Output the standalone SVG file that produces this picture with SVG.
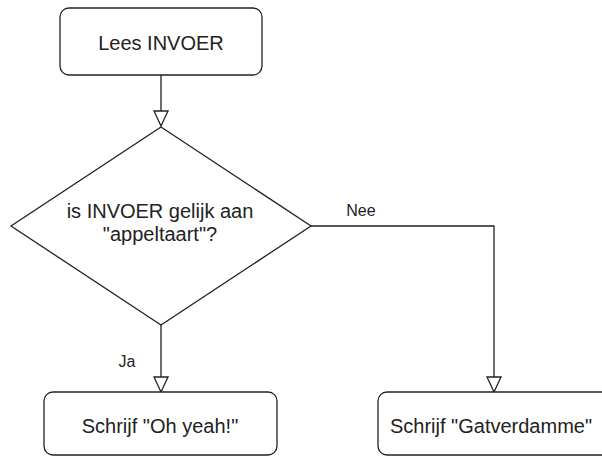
<svg xmlns="http://www.w3.org/2000/svg" width="602" height="459" viewBox="0 0 602 459">
<style>
.shape{fill:#fff;stroke:#222;stroke-width:1.3}
.edge{fill:none;stroke:#222;stroke-width:1.3}
.t{font-family:"Liberation Sans",Arial,sans-serif;font-size:20px;fill:#222;text-anchor:middle}
.lbl{font-family:"Liberation Sans",Arial,sans-serif;font-size:16px;fill:#222;text-anchor:middle}
</style>
<defs>
<marker id="arr" markerWidth="18" markerHeight="18" refX="16" refY="8" orient="auto" markerUnits="userSpaceOnUse">
<path d="M1,1 L16,8 L1,15 Z" fill="#fff" stroke="#222" stroke-width="1.3"/>
</marker>
</defs>
<rect width="602" height="459" fill="#fff"/>
<g id="connectors">
<path class="edge" d="M161,75 L161,126" marker-end="url(#arr)"/>
<path class="edge" d="M161,325 L161,392" marker-end="url(#arr)"/>
<path class="edge" d="M310,226 L494,226 L494,392" marker-end="url(#arr)"/>
<text class="lbl" x="361" y="216">Nee</text>
<text class="lbl" x="127" y="367">Ja</text>
</g>
<g id="node-lees">
<rect class="shape" x="60" y="8" width="202" height="67" rx="9"/>
<text class="t" x="161" y="50">Lees INVOER</text>
</g>
<g id="node-decision">
<polygon class="shape" points="161,127 311,226 161,325 11,226"/>
<text class="t" x="160" y="218">is INVOER gelijk aan</text>
<text class="t" x="160" y="241">"appeltaart"?</text>
</g>
<g id="node-ohyeah">
<rect class="shape" x="44" y="392" width="233" height="63" rx="9"/>
<text class="t" x="160" y="433">Schrijf "Oh yeah!"</text>
</g>
<g id="node-gatverdamme">
<rect class="shape" x="378" y="392" width="233" height="63" rx="9"/>
<text class="t" x="491" y="433">Schrijf "Gatverdamme"</text>
</g>
</svg>
